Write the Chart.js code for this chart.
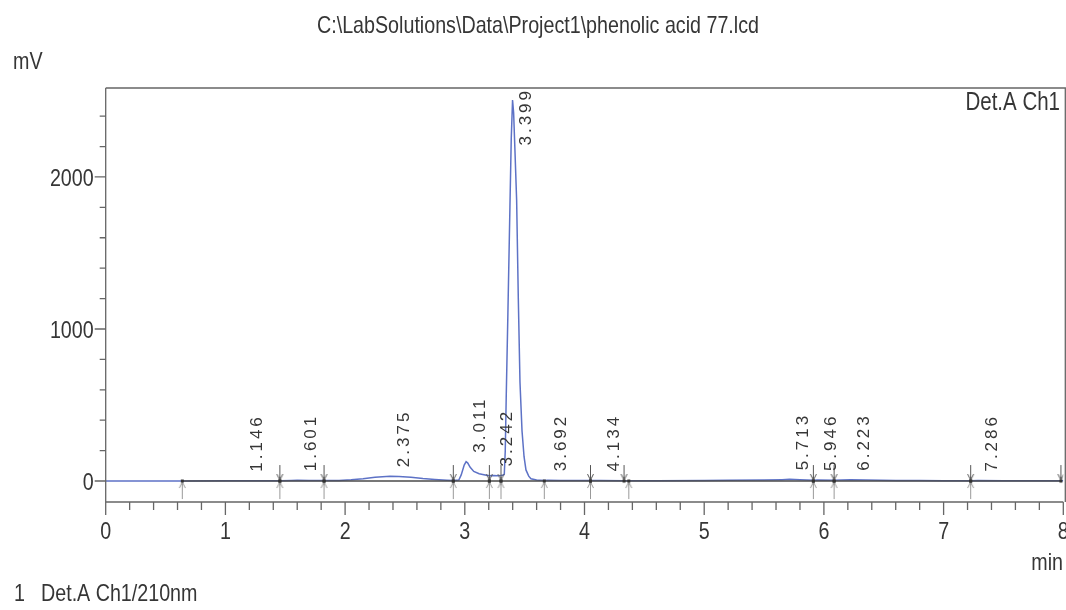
<!DOCTYPE html>
<html>
<head>
<meta charset="utf-8">
<title>phenolic acid 77</title>
<script src="https://cdn.jsdelivr.net/npm/chart.js@4.4.1/dist/chart.umd.min.js"></script>
<style>
  html, body { margin: 0; padding: 0; background: #fff; }
  canvas { display: block; }
</style>
</head>
<body>
<canvas id="chromatogram" width="1066" height="610"></canvas>
<script>
// Det.A Ch1 / 210 nm : retention time (min) against signal (mV)
const traceTime = [
    0, 0.30, 0.64, 1.00, 1.146, 1.30, 1.46, 1.55, 1.601, 1.70, 1.82,
    1.95, 2.05, 2.15, 2.25, 2.375, 2.45, 2.55, 2.65, 2.75, 2.85, 2.905,
    2.95, 2.97, 2.995, 3.011, 3.025, 3.045, 3.075, 3.12, 3.17, 3.205,
    3.242, 3.27, 3.30, 3.322, 3.330, 3.338, 3.346, 3.360, 3.377, 3.388,
    3.399, 3.408, 3.420, 3.433, 3.447, 3.461, 3.478, 3.495, 3.511, 3.534,
    3.553, 3.60, 3.664, 3.692, 3.80, 3.95, 4.05, 4.134, 4.33, 4.60, 5.00,
    5.20, 5.50, 5.65, 5.713, 5.80, 5.912, 5.946, 6.085, 6.15, 6.223, 6.35,
    6.60, 6.80, 7.00, 7.226, 7.286, 7.50, 7.80, 8.00
];
const traceSignal = [
    0, 0, 0, 1, 2, 1, 2, 4, 5, 4, 3,
    4, 8, 15, 24, 32, 30, 24, 16, 10, 5, 3,
    6, 40, 105, 127, 118, 90, 63, 48, 40, 34,
    37, 35, 36, 40, 45, 200, 550, 1100, 1800, 2250,
    2506, 2420, 2150, 1849, 1200, 650, 330, 160, 73, 32,
    15, 7, 4, 5, 4, 3, 3, 4, 2, 2, 3,
    5, 6, 9, 11, 8, 5, 6, 5, 7, 8, 6,
    4, 3, 2, 2, 3, 1, 1, 1
];

// integration baseline
const baselineTime = [0.64, 7.98];
const baselineSignal = [0, 0];

// peak start / end marks
const markDownTime = [1.455, 1.824, 2.904, 3.205, 3.302, 4.05, 4.33, 5.912, 6.085, 7.226, 7.98];
const markUpTime = [0.64, 1.455, 1.824, 2.904, 3.205, 3.302, 3.664, 4.05, 4.37, 5.912, 6.085, 7.226];

// retention times printed beside each peak
const peakTimes = [1.146, 1.601, 2.375, 3.011, 3.242, 3.399, 3.692, 4.134, 5.713, 5.946, 6.223, 7.286];

// axis ticks
const xMajorTicks = [0, 1, 2, 3, 4, 5, 6, 7, 8];
const xMinorPerMajor = 5;
const yTicks = [0, 200, 400, 600, 800, 1000, 1200, 1400, 1600, 1800, 2000, 2200, 2400];
const yLabelled = [0, 1000, 2000];

const SANS = "'Liberation Sans', Arial, sans-serif";
const NARROW_X = 0.82; // Liberation Sans squeezed to an Arial Narrow width
const INK = '#363636';
const AXIS = '#666';
const TRACE = '#5d72c6';

const xTicks = [];
for (let i = 0; i < xMajorTicks.length - 1; i++) {
    for (let k = 0; k < xMinorPerMajor; k++) {
        xTicks.push(Math.round((xMajorTicks[i] + k / xMinorPerMajor) * 1000) / 1000);
    }
}
xTicks.push(xMajorTicks[xMajorTicks.length - 1]);

function toPoints(xs, ys) {
    return xs.map((x, i) => ({ x: x, y: ys[i] }));
}

function signalAt(t) {
    for (let i = 1; i < traceTime.length; i++) {
        if (traceTime[i] >= t) {
            const t0 = traceTime[i - 1], t1 = traceTime[i];
            const f = (t - t0) / (t1 - t0);
            return traceSignal[i - 1] + f * (traceSignal[i] - traceSignal[i - 1]);
        }
    }
    return traceSignal[traceSignal.length - 1];
}

function narrowText(ctx, text, x, y, align, size) {
    ctx.save();
    ctx.translate(x, y);
    ctx.scale(NARROW_X, 1);
    ctx.font = size + 'px ' + SANS;
    ctx.textAlign = align;
    ctx.textBaseline = 'alphabetic';
    ctx.fillStyle = INK;
    ctx.fillText(text, 0, 0);
    ctx.restore();
}

// little arrow glyphs used as point styles for the marks
function arrowImage(dir) {
    const c = document.createElement('canvas');
    c.width = 9;
    c.height = 40;
    const g = c.getContext('2d');
    const mid = 20;
    g.lineWidth = 1;
    g.strokeStyle = dir === 'down' ? '#555' : '#999';
    g.beginPath();
    if (dir === 'down') {
        g.moveTo(4.5, mid - 16); g.lineTo(4.5, mid - 1);
        g.moveTo(1.5, mid - 7); g.lineTo(4.5, mid - 1); g.lineTo(7.5, mid - 7);
    } else {
        g.moveTo(4.5, mid + 1); g.lineTo(4.5, mid + 18);
        g.moveTo(1.5, mid + 7); g.lineTo(4.5, mid + 1); g.lineTo(7.5, mid + 7);
    }
    g.stroke();
    g.fillStyle = '#333';
    g.fillRect(3, mid - 1.5, 3, 3);
    return c;
}

const frameAndTicks = {
    id: 'frameAndTicks',
    afterDraw(chart) {
        const { ctx, chartArea: a, scales: { x, y } } = chart;
        ctx.save();
        ctx.strokeStyle = AXIS;
        ctx.lineWidth = 1.3;
        ctx.beginPath();
        ctx.moveTo(a.left, a.top); ctx.lineTo(a.right + 2, a.top); ctx.lineTo(a.right + 2, a.bottom);
        ctx.moveTo(a.left, a.top); ctx.lineTo(a.left, a.bottom); ctx.lineTo(a.right, a.bottom);
        for (const t of x.ticks) {
            const px = x.getPixelForValue(t.value);
            const len = xMajorTicks.includes(t.value) ? 13 : 8;
            ctx.moveTo(px, a.bottom); ctx.lineTo(px, a.bottom + len);
        }
        for (const t of y.ticks) {
            const py = y.getPixelForValue(t.value);
            const len = yLabelled.includes(t.value) ? 11 : 6;
            ctx.moveTo(a.left - len, py); ctx.lineTo(a.left, py);
        }
        ctx.stroke();
        ctx.restore();

        // tick labels in the narrow face
        for (const t of x.ticks) {
            if (!xMajorTicks.includes(t.value)) continue;
            narrowText(ctx, String(t.value), x.getPixelForValue(t.value), a.bottom + 37, 'center', 24);
        }
        for (const t of y.ticks) {
            if (!yLabelled.includes(t.value)) continue;
            narrowText(ctx, String(t.value), a.left - 12, y.getPixelForValue(t.value) + 8.6, 'right', 24);
        }
    }
};

const peakLabels = {
    id: 'peakLabels',
    afterDatasetsDraw(chart) {
        const { ctx, chartArea: a, scales: { x, y } } = chart;
        ctx.save();
        ctx.font = '17px ' + SANS;
        ctx.letterSpacing = '3px';
        ctx.fillStyle = INK;
        ctx.textAlign = 'left';
        ctx.textBaseline = 'middle';
        for (const t of peakTimes) {
            const text = t.toFixed(3);
            const len = ctx.measureText(text).width;
            const px = x.getPixelForValue(t) + 14;
            let start = y.getPixelForValue(signalAt(t)) - 9;
            if (start - len < a.top) start = a.top + len;
            ctx.save();
            ctx.translate(px, start);
            ctx.rotate(-Math.PI / 2);
            ctx.fillText(text, 0, 0);
            ctx.restore();
        }
        ctx.restore();
    }
};

const captions = {
    id: 'captions',
    afterDraw(chart) {
        const { ctx } = chart;
        narrowText(ctx, 'C:\\LabSolutions\\Data\\Project1\\phenolic acid 77.lcd', 538, 33, 'center', 24);
        narrowText(ctx, 'mV', 13, 69, 'left', 24);
        narrowText(ctx, '1', 14, 601, 'left', 24);
        narrowText(ctx, 'Det.A Ch1/210nm', 41, 601, 'left', 24);
        narrowText(ctx, 'Det.A Ch1', 1060, 110, 'right', 25);
        narrowText(ctx, 'min', 1063, 570, 'right', 24);
    }
};

new Chart(document.getElementById('chromatogram'), {
    type: 'line',
    data: {
        datasets: [
            {
                label: 'marks down',
                data: toPoints(markDownTime, markDownTime.map(() => 0)),
                showLine: false,
                pointStyle: arrowImage('down'),
                pointRadius: 5,
                order: 0
            },
            {
                label: 'marks up',
                data: toPoints(markUpTime, markUpTime.map(() => 0)),
                showLine: false,
                pointStyle: arrowImage('up'),
                pointRadius: 5,
                order: 0
            },
            {
                label: 'baseline',
                data: toPoints(baselineTime, baselineSignal),
                borderColor: '#4a4a4a',
                borderWidth: 1.6,
                pointRadius: 0,
                order: 1
            },
            {
                label: 'Det.A Ch1',
                data: toPoints(traceTime, traceSignal),
                borderColor: TRACE,
                borderWidth: 1.5,
                pointRadius: 0,
                tension: 0,
                order: 2
            }
        ]
    },
    options: {
        responsive: false,
        animation: false,
        layout: {
            autoPadding: false,
            padding: { top: 88, right: 2.7, bottom: 0, left: 0 }
        },
        plugins: {
            legend: { display: false },
            tooltip: { enabled: false }
        },
        scales: {
            x: {
                type: 'linear',
                min: 0,
                max: 8,
                afterBuildTicks: (s) => { s.ticks = xTicks.map(v => ({ value: v })); },
                afterFit: (s) => { s.height = 108; },
                grid: { display: false },
                border: { display: false },
                ticks: { display: false }
            },
            y: {
                min: -138,
                max: 2585,
                afterBuildTicks: (s) => { s.ticks = yTicks.map(v => ({ value: v })); },
                afterFit: (s) => { s.width = 105.7; },
                grid: { display: false },
                border: { display: false },
                ticks: { display: false }
            }
        }
    },
    plugins: [frameAndTicks, peakLabels, captions]
});
</script>
</body>
</html>
